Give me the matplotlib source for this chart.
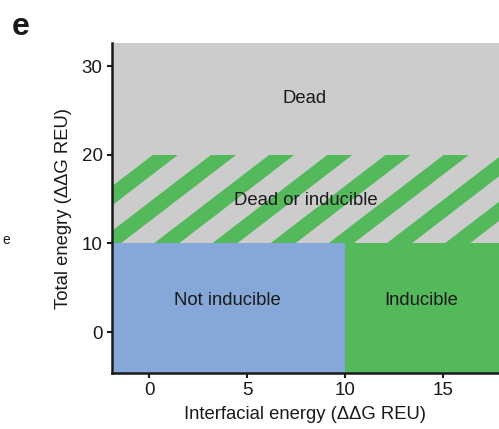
import matplotlib.pyplot as plt
import numpy as np
from matplotlib.patches import Rectangle, Polygon

plt.rcParams['font.family'] = ['Liberation Sans', 'DejaVu Sans']

# 阈值 (ΔΔG REU)
interfacial_cut = 10
total_low = 10
total_high = 20

# 坐标范围
x_range = [-1.9, 17.86]
y_range = [-4.62, 32.6]

# 区域标签及位置
region_names = ['Dead', 'Dead or inducible', 'Not inducible', 'Inducible']
region_x = [7.95, 8.0, 4.0, 13.9]
region_y = [26.3, 14.85, 3.57, 3.57]

x_ticks = [0, 5, 10, 15]
y_ticks = [0, 10, 20, 30]

# 条纹参数
stripe_start = 0.2
stripe_period = 2.97
stripe_width = 1.28
stripe_shift = 5.9

grey = '#cccccc'
green = '#53b95b'
blue = '#86a8d8'
ink = '#1a1a1a'

fig = plt.figure(figsize=(4.99, 4.29), dpi=100)
ax = fig.add_axes([0.2244, 0.1305, 0.7756, 0.7693])

# 上方灰色区域 (死亡 + 过渡带底色)
ax.add_patch(Rectangle((x_range[0], total_low), x_range[1] - x_range[0],
                       y_range[1] - total_low, facecolor=grey, edgecolor='none'))
# 下方: 不可诱导 / 可诱导
ax.add_patch(Rectangle((x_range[0], y_range[0]), interfacial_cut - x_range[0],
                       total_low - y_range[0], facecolor=blue, edgecolor='none'))
ax.add_patch(Rectangle((interfacial_cut, y_range[0]), x_range[1] - interfacial_cut,
                       total_low - y_range[0], facecolor=green, edgecolor='none'))

# 过渡带中的斜条纹
band = Rectangle((x_range[0], total_low), x_range[1] - x_range[0],
                 total_high - total_low, facecolor='none', edgecolor='none')
ax.add_patch(band)
for k in range(0, 10):
    x0 = stripe_start + k * stripe_period
    pts = [(x0 - stripe_shift, total_low), (x0 - stripe_shift + stripe_width, total_low),
           (x0 + stripe_width, total_high), (x0, total_high)]
    p = Polygon(pts, closed=True, facecolor=green, edgecolor='none')
    ax.add_patch(p)
    p.set_clip_path(band)

for name, tx, ty in zip(region_names, region_x, region_y):
    ax.text(tx, ty, name, ha='center', va='center', fontsize=13.3, color=ink)

ax.set_xlim(x_range)
ax.set_ylim(y_range)
ax.set_xticks(x_ticks)
ax.set_yticks(y_ticks)
ax.tick_params(labelsize=13.5, width=1.5, length=3.8, direction='out', pad=3,
               colors=ink)
for s in ['top', 'right']:
    ax.spines[s].set_visible(False)
for s in ['left', 'bottom']:
    ax.spines[s].set_linewidth(1.8)
    ax.spines[s].set_color(ink)

ax.set_xlabel('Interfacial energy (ΔΔG REU)', fontsize=13.3, labelpad=5, color=ink)
ax.set_ylabel('Total enegry (ΔΔG REU)', fontsize=13.3, labelpad=7, color=ink)

fig.text(0.024, 0.937, 'e', fontsize=23, fontweight='bold', va='center', color=ink)
fig.text(0.004, 0.44, 'e', fontsize=10, va='center', color=ink)

fig.savefig('out.png', dpi=100)
